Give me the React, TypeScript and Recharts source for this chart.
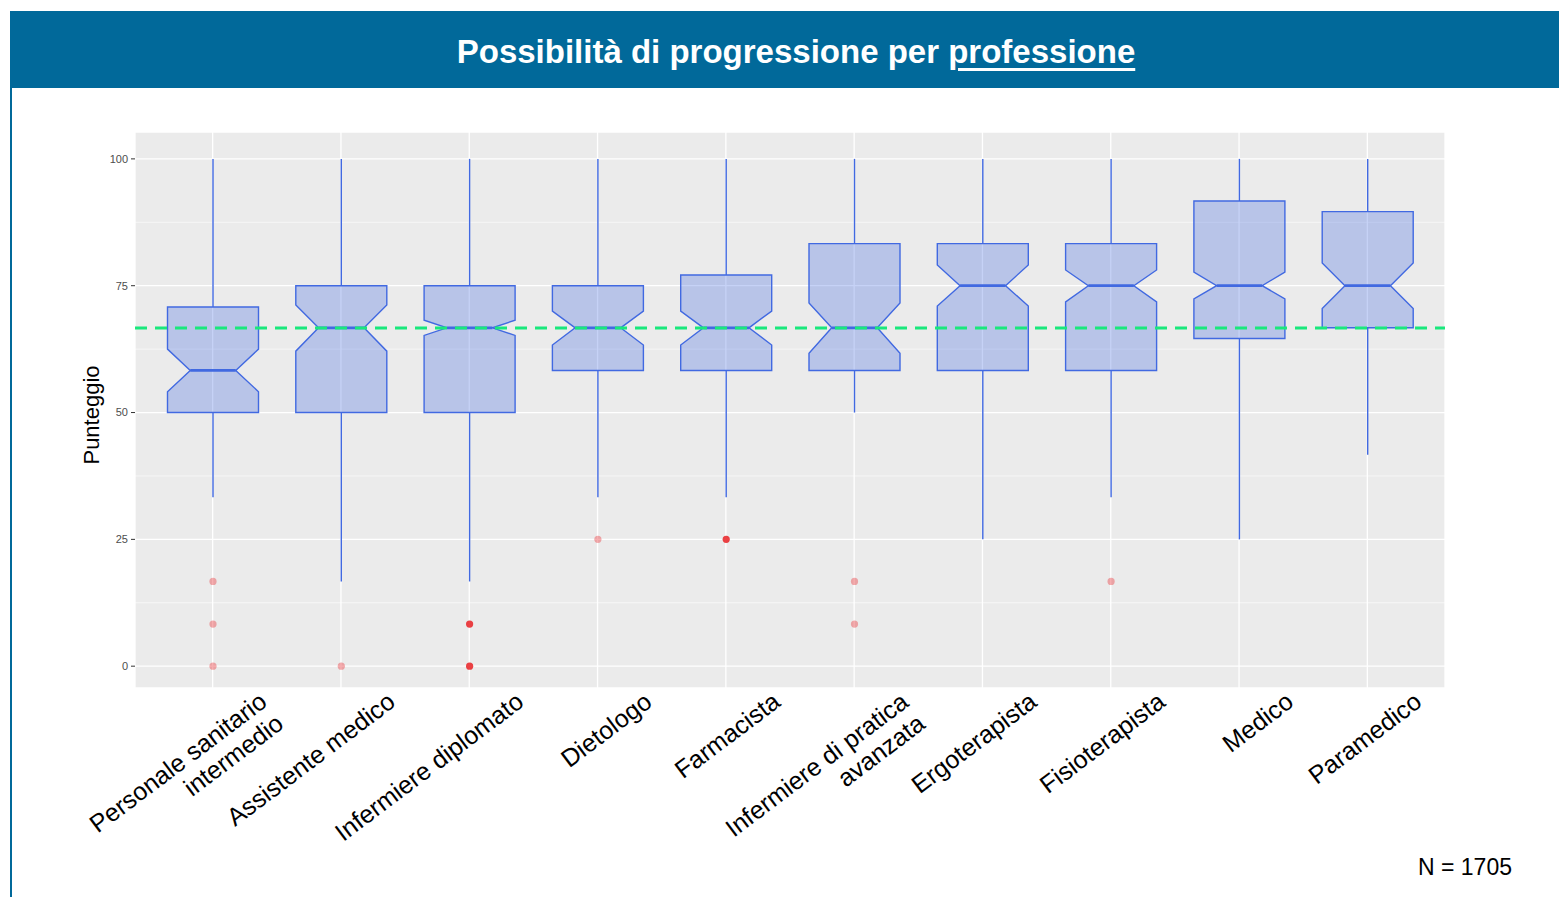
import React from 'react';
import {
  ComposedChart,
  Bar,
  XAxis,
  YAxis,
  CartesianGrid,
  ReferenceLine,
} from 'recharts';

const categories = [
  'Personale sanitario\nintermedio',
  'Assistente medico',
  'Infermiere diplomato',
  'Dietologo',
  'Farmacista',
  'Infermiere di pratica\navanzata',
  'Ergoterapista',
  'Fisioterapista',
  'Medico',
  'Paramedico',
];

const whiskerLow = [33.3, 16.7, 16.7, 33.3, 33.3, 50, 25, 33.3, 25, 41.7];
const q1 = [50, 50, 50, 58.3, 58.3, 58.3, 58.3, 58.3, 64.6, 66.7];
const notchLow = [54.1, 62.1, 65.2, 63.3, 63.3, 61.7, 71.0, 71.8, 72.4, 70.5];
const median = [58.3, 66.7, 66.7, 66.7, 66.7, 66.7, 75, 75, 75, 75];
const notchHigh = [62.5, 71.2, 68.2, 70.0, 70.0, 71.6, 79.1, 78.1, 77.7, 79.5];
const q3 = [70.8, 75, 75, 75, 77.1, 83.3, 83.3, 83.3, 91.7, 89.6];
const whiskerHigh = [100, 100, 100, 100, 100, 100, 100, 100, 100, 100];

// outlier values and how many answers sit on each (darker = more overlap)
const outliers = [[16.7, 8.3, 0], [0], [8.3, 0], [25], [25], [16.7, 8.3], [], [16.7], [], []];
const outlierCounts = [[1, 1, 1], [1], [4, 4], [1], [4], [1, 1], [], [1], [], []];

const yTicks = [0, 25, 50, 75, 100];
const yMinor = [12.5, 37.5, 62.5, 87.5];
const overallMedian = 66.67;

const data = categories.map((name, i) => ({
  name,
  lo: whiskerLow[i],
  q1: q1[i],
  nLo: notchLow[i],
  med: median[i],
  nHi: notchHigh[i],
  q3: q3[i],
  hi: whiskerHigh[i],
  out: outliers[i],
  cnt: outlierCounts[i],
}));

const FONT = '"Liberation Sans", Arial, Helvetica, sans-serif';
const BLUE = '#4169e1';

const BoxShape = (props: any) => {
  const { x, y, width, height, payload } = props;
  const p = payload;
  // pixel for any value, from the bar's own scaled ends (lo..hi)
  const py = (v: number) => y + (height * (p.hi - v)) / (p.hi - p.lo);
  const cx = x + width / 2;
  const l = x;
  const r = x + width;
  const il = x + width * 0.25;
  const ir = x + width * 0.75;
  const d = `M${l},${py(p.q3)} L${r},${py(p.q3)} L${r},${py(p.nHi)} L${ir},${py(p.med)} L${r},${py(p.nLo)} L${r},${py(p.q1)} L${l},${py(p.q1)} L${l},${py(p.nLo)} L${il},${py(p.med)} L${l},${py(p.nHi)} Z`;
  return (
    <g>
      <line x1={cx} x2={cx} y1={py(p.hi)} y2={py(p.q3)} stroke={BLUE} strokeWidth={1.4} />
      <line x1={cx} x2={cx} y1={py(p.q1)} y2={py(p.lo)} stroke={BLUE} strokeWidth={1.4} />
      <path d={d} fill={BLUE} fillOpacity={0.3} stroke={BLUE} strokeWidth={1.4} />
      <line x1={il} x2={ir} y1={py(p.med)} y2={py(p.med)} stroke={BLUE} strokeWidth={2.8} />
      {p.out.map((v: number, k: number) => (
        <circle
          key={k}
          cx={cx}
          cy={py(v)}
          r={3.6}
          fill="#e8181c"
          fillOpacity={1 - Math.pow(0.65, p.cnt[k])}
        />
      ))}
    </g>
  );
};

const CatTick = (props: any) => {
  const { x, y, payload } = props;
  const lines = String(payload.value).split('\n');
  return (
    <g transform={`translate(${x + 56},${y + 17}) rotate(-37)`}>
      <text textAnchor="end" fontSize={25} fill="#000" fontFamily={FONT}>
        {lines.map((t, i) => (
          <tspan key={i} x={0} dy={i === 0 ? 0 : '1.1em'}>
            {t}
          </tspan>
        ))}
      </text>
    </g>
  );
};

const YLabel = () => (
  <text
    x={99}
    y={415}
    transform="rotate(-90, 99, 415)"
    textAnchor="middle"
    fontSize={22}
    fill="#000"
    fontFamily={FONT}
  >
    Punteggio
  </text>
);

export default function App() {
  return (
    <div
      style={{
        position: 'absolute',
        left: 0,
        top: 0,
        width: 1559,
        height: 897,
        background: '#fff',
        overflow: 'hidden',
        fontFamily: FONT,
      }}
    >
      <div
        style={{
          position: 'absolute',
          left: 10,
          top: 11,
          width: 1549,
          height: 77,
          background: '#01699a',
        }}
      />
      <div
        style={{
          position: 'absolute',
          left: 0,
          top: 13,
          width: 1592,
          height: 77,
          lineHeight: '77px',
          textAlign: 'center',
          color: '#fff',
          fontWeight: 'bold',
          fontSize: 33,
        }}
      >
        Possibilità di progressione per{' '}
        <span style={{ textDecoration: 'underline', textDecorationThickness: 3, textUnderlineOffset: 5 }}>
          professione
        </span>
      </div>
      <div
        style={{ position: 'absolute', left: 10, top: 88, width: 2, height: 809, background: '#01699a' }}
      />
      <div style={{ position: 'absolute', left: 0, top: 0 }}>
        <ComposedChart
          width={1559}
          height={897}
          data={data}
          margin={{ top: 132, right: 114, bottom: 59, left: 75 }}
        >
          <CartesianGrid
            fill="#ebebeb"
            stroke="#fff"
            strokeWidth={0.6}
            vertical={false}
            horizontalValues={yMinor}
          />
          <CartesianGrid fill="none" stroke="#fff" strokeWidth={1.3} />
          <XAxis
            dataKey="name"
            type="category"
            interval={0}
            axisLine={false}
            tickLine={false}
            tickSize={0}
            tickMargin={0}
            height={150}
            padding={{ left: 13.5, right: 13.5 }}
            tick={CatTick}
          />
          <YAxis
            type="number"
            domain={[-4.3, 105.3]}
            ticks={yTicks}
            allowDataOverflow
            width={60}
            axisLine={false}
            tickSize={4}
            tickMargin={3}
            tickLine={{ stroke: '#333', strokeWidth: 1 }}
            tick={{ fill: '#4d4d4d', fontSize: 11, fontFamily: FONT }}
            label={<YLabel />}
          />
          <Bar
            dataKey={(d: any) => [d.lo, d.hi]}
            barSize={91}
            shape={BoxShape}
            isAnimationActive={false}
          />
          <ReferenceLine
            y={overallMedian}
            stroke="#19e87c"
            strokeWidth={3}
            strokeDasharray="12 8"
          />
        </ComposedChart>
      </div>
      <div
        style={{ position: 'absolute', left: 1418, top: 852, fontSize: 23, color: '#000', lineHeight: '30px' }}
      >
        N = 1705
      </div>
    </div>
  );
}
